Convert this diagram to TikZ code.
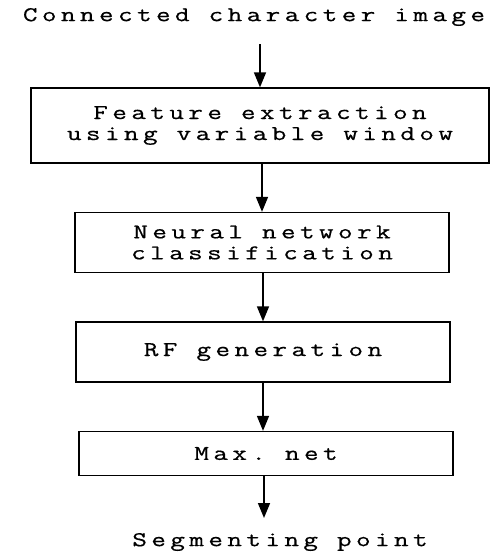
\documentclass[tikz,border=0pt]{standalone}
\usepackage{fontspec}
\setmonofont[LetterSpace=21, FakeStretch=1.35, FakeBold=0.6]{Latin Modern Mono}
\usetikzlibrary{arrows.meta}

\tikzset{
    label/.style={font=\ttfamily\fontsize{21}{21}\selectfont, inner sep=0pt, align=center},
    stage/.style={draw, line width=1.3pt, minimum height=60, minimum width=374, label},
    flow/.style={line width=1.6pt, -{Triangle[width=12pt,length=15pt]}}
}

\begin{document}
\begin{tikzpicture}[x=1pt, y=-1pt]
\useasboundingbox (0,0) rectangle (498,552);

\node[label] (title) at (254,17) {Connected character image};

\node[stage, minimum width=458, minimum height=75] (feat) at (260,125.5)
    {Feature extraction\\using variable window};
\node[stage] (nn)  at (262,242.5) {Neural network\\classification};
\node[stage] (rf)  at (263,352)   {RF generation};
\node[stage, minimum height=44] (maxnet) at (266,453.5) {Max. net};

\node[label] (segpt) at (280,542) {Segmenting point};

% connectors
\coordinate (in)  at (260,44);
\coordinate (out) at (264,518);

\draw[flow] (in) -- (feat.north);
\draw[flow] (nn.north |- feat.south) -- (nn.north);
\draw[flow] (rf.north |- nn.south) -- (rf.north);
\draw[flow] (rf.south) -- (rf.south |- maxnet.north);
\draw[flow] (maxnet.south -| out) -- (out);

\end{tikzpicture}
\end{document}
